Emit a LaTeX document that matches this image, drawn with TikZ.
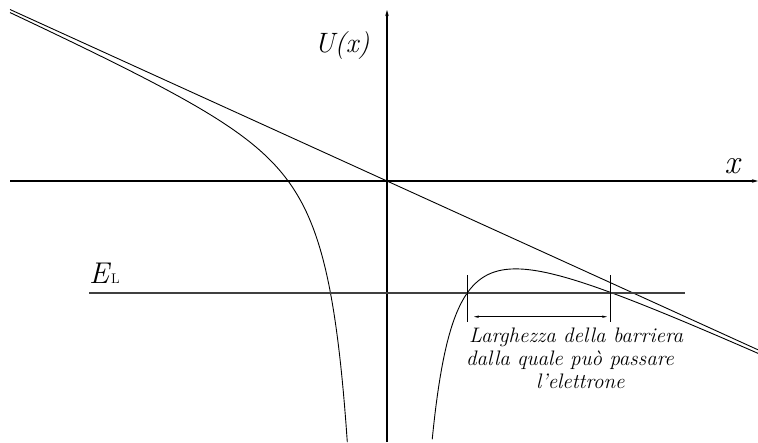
\documentclass[tikz,border=0pt]{standalone}
\usetikzlibrary{arrows.meta}
\begin{document}
\begin{tikzpicture}[x=1pt,y=-1pt,
  axis/.style={line width=1.1pt,black},
  curve/.style={line width=0.9pt,black},
  tickline/.style={line width=0.9pt,black},
  level/.style={line width=1.1pt,black!75},
  lbl/.style={inner sep=0pt,font=\itshape}]
\useasboundingbox (0,0) rectangle (758,442);
% axes
\coordinate (xs) at (10,181);
\coordinate (xe) at (758,181);
\coordinate (ys) at (387,442);
\coordinate (ye) at (387,10);
\draw[axis,-{Stealth[length=6pt,width=3.5pt]}] (xs) -- (xe);
\draw[axis,-{Stealth[length=6pt,width=3.5pt]}] (ys) -- (ye);
% straight line through origin
\coordinate (la) at (10,9.5);
\coordinate (lb) at (758,349.8);
\draw[curve] (la) -- (lb);
% potential curves
\draw[curve] plot[domain=10:347.3,samples=250,variable=\t]
  ({\t},{181-0.455*(387-\t)+(663.3/(387-\t))^2});
\draw[curve] plot[domain=432.2:758,samples=250,variable=\t]
  ({\t},{181+0.455*(\t-387)+(697.1/(\t-387))^2});
% energy level
\coordinate (ea) at (89,293);
\coordinate (eb) at (685,293);
\draw[level] (ea) -- (eb);
\node[lbl,anchor=base west] (EL) at (89,283) {\fontsize{30}{30}\selectfont E\kern2pt\fontsize{14}{14}\selectfont\upshape L};
% barrier width marks
\coordinate (t1a) at (467,275);
\coordinate (t1b) at (467,322);
\coordinate (t2a) at (610,275);
\coordinate (t2b) at (610,322);
\draw[tickline] (t1a) -- (t1b);
\draw[tickline] (t2a) -- (t2b);
\coordinate (wa) at (474,316.7);
\coordinate (wb) at (607,316.7);
\draw[line width=0.7pt,{Stealth[length=5pt,width=2.5pt]}-{Stealth[length=5pt,width=2.5pt]}] (wa) -- (wb);
% labels
\node[lbl,anchor=base] (U) at (342,52.7) {\fontsize{28}{28}\selectfont U(x)};
\node[lbl,anchor=base] (X) at (732,173) {\fontsize{34}{34}\selectfont x};
\node[lbl,anchor=base west] (t1) at (469,342.7) {\fontsize{21}{22}\selectfont Larghezza della barriera};
\node[lbl,anchor=base west] (t2) at (466,365) {\fontsize{21}{22}\selectfont dalla quale può passare};
\node[lbl,anchor=base west] (t3) at (536,388) {\fontsize{21}{22}\selectfont l'elettrone};
\end{tikzpicture}
\end{document}
